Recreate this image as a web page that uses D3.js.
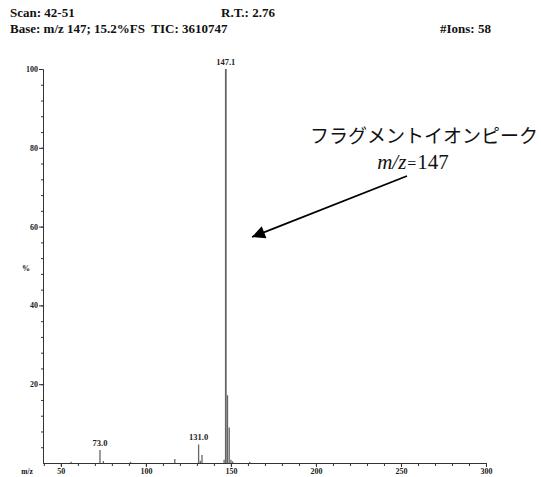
<!DOCTYPE html>
<html lang="ja">
<head>
<meta charset="UTF-8">
<title>mass spectrum</title>
<script src="https://cdn.jsdelivr.net/npm/d3@7"></script>
<style>
    body { margin: 0; background: #fff; }
    svg { display: block; }
    .hdr { font-family: "Liberation Serif", serif; font-weight: bold; font-size: 13px; fill: #111; white-space: pre; }
    .axis path, .axis line { fill: none; stroke: #333; stroke-width: 1; }
    .axis text { font-family: "Liberation Serif", serif; font-weight: bold; font-size: 8px; fill: #222; }
    .plab { font-family: "Liberation Serif", serif; font-weight: bold; font-size: 8.5px; fill: #222; text-anchor: middle; }
</style>
</head>
<body>
<svg></svg>
<script>
// m/z of each peak and its relative intensity (%)
var mz        = [56, 73, 75, 91, 117, 131, 132, 133, 146, 147, 148, 149, 150, 151, 161];
var intensity = [0.3, 3.3, 0.5, 0.3, 1.0, 4.7, 0.6, 2.0, 0.8, 100, 17.2, 9.0, 0.8, 0.4, 0.3];

var labelPeaks = [73, 131, 147];
var labelTexts = ["73.0", "131.0", "147.1"];

var xMajor = [50, 100, 150, 200, 250, 300];
var yMajor = [20, 40, 60, 80, 100];

var headerLines = [
    ["Scan: 42-51", "R.T.: 2.76", ""],
    ["Base: m/z 147; 15.2%FS  TIC: 3610747", "", "#Ions: 58"]
];

var W = 541, H = 477;
var svg = d3.select("svg").attr("width", W).attr("height", H);

var x = d3.scaleLinear().domain([39.5, 300]).range([43, 486]);
var y = d3.scaleLinear().domain([0, 100]).range([463, 69]);

// header
svg.append("text").attr("class", "hdr").attr("x", 10).attr("y", 17).text(headerLines[0][0]);
svg.append("text").attr("class", "hdr").attr("x", 221).attr("y", 17).text(headerLines[0][1]);
svg.append("text").attr("class", "hdr").attr("x", 10).attr("y", 33).text(headerLines[1][0]);
svg.append("text").attr("class", "hdr").attr("x", 440).attr("y", 33).text(headerLines[1][2]);

// x axis: major + minor
svg.append("g").attr("class", "axis").attr("transform", "translate(0," + y(0) + ")")
    .call(d3.axisBottom(x).tickValues(d3.range(40, 301, 10)).tickSize(3).tickSizeOuter(0).tickFormat(""));
svg.append("g").attr("class", "axis").attr("transform", "translate(0," + y(0) + ")")
    .call(d3.axisBottom(x).tickValues(xMajor).tickSize(4).tickSizeOuter(0).tickPadding(1));

// y axis: major + minor
svg.append("g").attr("class", "axis").attr("transform", "translate(43,0)")
    .call(d3.axisLeft(y).tickValues(d3.range(4, 101, 4)).tickSize(2).tickSizeOuter(0).tickFormat(""));
svg.append("g").attr("class", "axis").attr("transform", "translate(43,0)")
    .call(d3.axisLeft(y).tickValues(yMajor).tickSize(4).tickSizeOuter(0).tickPadding(1));

svg.append("text").attr("class", "hdr").style("font-size", "8px")
    .attr("x", 26).attr("y", 271).attr("text-anchor", "middle").text("%");
svg.append("text").attr("class", "hdr").style("font-size", "7.5px")
    .attr("x", 27).attr("y", 474).attr("text-anchor", "middle").text("m/z");

// peaks
svg.selectAll(".peak")
    .data(mz)
    .enter()
    .append("line")
    .attr("class", "peak")
    .attr("x1", function (d) { return x(d); })
    .attr("x2", function (d) { return x(d); })
    .attr("y1", y(0))
    .attr("y2", function (d, i) { return y(intensity[i]); })
    .attr("stroke", "#666")
    .attr("stroke-width", function (d) { return d === 147 ? 1.8 : 1.3; });

// peak labels
svg.selectAll(".plab")
    .data(labelPeaks)
    .enter()
    .append("text")
    .attr("class", "plab")
    .attr("x", function (d) { return x(d); })
    .attr("y", function (d) { return y(intensity[mz.indexOf(d)]) - 4; })
    .text(function (d, i) { return labelTexts[i]; });

// annotation
svg.append("text")
    .attr("x", 538).attr("y", 143).attr("text-anchor", "end")
    .style("font-family", "'Noto Sans CJK JP', sans-serif").style("font-size", "19px").style("fill", "#111")
    .text("フラグメントイオンピーク");
var ann = svg.append("text")
    .attr("x", 413).attr("y", 169).attr("text-anchor", "middle")
    .style("font-family", "'Liberation Serif', serif").style("font-size", "21px").style("fill", "#111");
ann.append("tspan").style("font-style", "italic").text("m/z");
ann.append("tspan").attr("dx", 1).style("font-size", "16px").text("=");
ann.append("tspan").attr("dx", 1).text("147");

svg.append("defs").append("marker")
    .attr("id", "ah").attr("viewBox", "0 0 10 10").attr("refX", 10).attr("refY", 5)
    .attr("markerUnits", "userSpaceOnUse")
    .attr("orient", "auto")
    .attr("markerWidth", 20).attr("markerHeight", 13)
    .append("path").attr("d", "M0,0L10,5L0,10Z").attr("fill", "#000");
svg.append("line")
    .attr("x1", 407).attr("y1", 176).attr("x2", 252).attr("y2", 237)
    .attr("stroke", "#000").attr("stroke-width", 1.8)
    .attr("marker-end", "url(#ah)");
</script>
</body>
</html>
